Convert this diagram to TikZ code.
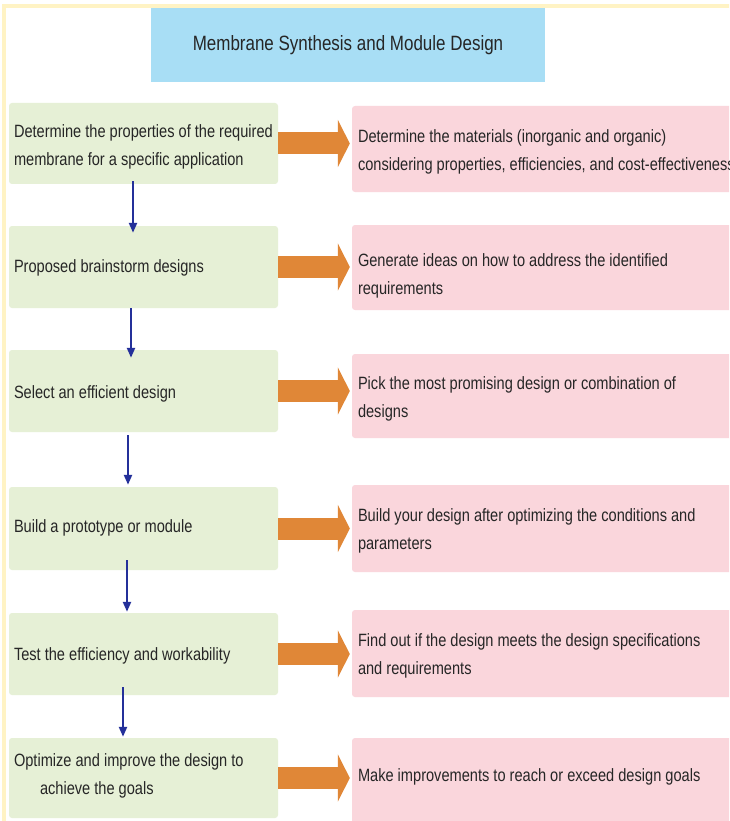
\documentclass[tikz,border=0pt]{standalone}
\usepackage{fontspec}
\setmainfont{Liberation Sans}[FakeStretch=0.82]
\usetikzlibrary{arrows.meta,calc}

\definecolor{titleblue}{HTML}{A8DEF5}
\definecolor{stepgreen}{HTML}{E6F0D6}
\definecolor{actpink}{HTML}{FAD6DC}
\definecolor{linkorange}{HTML}{E08737}
\definecolor{flowblue}{HTML}{24309A}
\definecolor{framegold}{HTML}{FFF3C4}
\definecolor{ink}{HTML}{262626}

\tikzset{
  stepbox/.style={fill=stepgreen, rounded corners=3pt, minimum width=269pt, inner sep=0pt},
  actbox/.style={fill=actpink, rounded corners=3pt, minimum width=408pt, inner sep=0pt},
  boxtext/.style={anchor=west, align=left, inner sep=0pt, text=ink},
  link/.style={linkorange, line width=22pt, -{Triangle[length=12pt,width=47pt]}},
  flow/.style={flowblue, line width=2.2pt, -{Triangle[length=10pt,width=8pt]}}
}

\begin{document}
\begin{tikzpicture}[x=1pt, y=-1pt, font=\fontsize{17.8}{28}\selectfont]
  \useasboundingbox (0,0) rectangle (729,821);
  \clip (0,0) rectangle (729,821);
  \fill[white] (0,0) rectangle (729,821);

  % pale outer frame
  \draw[framegold, line width=4pt] (3.5,6) rectangle (780,880);

  % heading
  \node[fill=titleblue, minimum width=394pt, minimum height=74pt, inner sep=0pt,
        font=\fontsize{20.7}{24}\selectfont, text=ink] (title) at (348,45)
        {Membrane Synthesis and Module Design};

  % process steps (left column)
  \node[stepbox, minimum height=81pt] (g1) at (143.5,143.5) {};
  \node[stepbox, minimum height=82pt] (g2) at (143.5,267) {};
  \node[stepbox, minimum height=82pt] (g3) at (143.5,391) {};
  \node[stepbox, minimum height=83pt] (g4) at (143.5,528.5) {};
  \node[stepbox, minimum height=82pt] (g5) at (143.5,654) {};
  \node[stepbox, minimum height=80pt] (g6) at (143.5,778) {};

  % actions (right column)
  \node[actbox, minimum height=86pt] (p1) at (556,149) {};
  \node[actbox, minimum height=85pt] (p2) at (556,267.5) {};
  \node[actbox, minimum height=84pt] (p3) at (556,396) {};
  \node[actbox, minimum height=87pt] (p4) at (556,528.5) {};
  \node[actbox, minimum height=87pt] (p5) at (556,653.5) {};
  \node[actbox, minimum height=102pt] (p6) at (556,789) {};

  % step labels
  \node[boxtext] (g1t) at ($(g1.west)+(5,3)$) {Determine the properties of the required\\membrane for a specific application};
  \node[boxtext] (g2t) at ($(g2.west)+(5,1)$) {Proposed brainstorm designs};
  \node[boxtext] (g3t) at ($(g3.west)+(5,3)$) {Select an efficient design};
  \node[boxtext] (g4t) at ($(g4.west)+(5,-1)$) {Build a prototype or module};
  \node[boxtext] (g5t) at ($(g5.west)+(5,2)$) {Test the efficiency and workability};
  \node[boxtext] (g6t) at ($(g6.west)+(5,-2)$) {Optimize and improve the design to\\\hspace*{26pt}achieve the goals};

  % action labels
  \node[boxtext] (p1t) at ($(p1.west)+(6,3)$) {Determine the materials (inorganic and organic)\\considering properties, efficiencies, and cost-effectiveness};
  \node[boxtext] (p2t) at ($(p2.west)+(6,8)$) {Generate ideas on how to address the identified\\requirements};
  \node[boxtext] (p3t) at ($(p3.west)+(6,3)$) {Pick the most promising design or combination of\\designs};
  \node[boxtext] (p4t) at ($(p4.west)+(6,2)$) {Build your design after optimizing the conditions and\\parameters};
  \node[boxtext] (p5t) at ($(p5.west)+(6,2)$) {Find out if the design meets the design specifications\\and requirements};
  \node[boxtext] (p6t) at ($(p6.west)+(6,-12)$) {Make improvements to reach or exceed design goals};

  % step -> action links
  \foreach \i in {1,...,6} {
    \draw[link] (g\i.east) -- ($(g\i.east -| p\i.west)+(-2,0)$);
  }

  % step -> step flow
  \draw[flow] ($(g1.south)+(-10.5,-3)$) -- ($(g2.north)+(-10.5,7)$);
  \draw[flow] ($(g2.south)+(-12.5,0)$) -- ($(g3.north)+(-12.5,8)$);
  \draw[flow] ($(g3.south)+(-15.5,3)$) -- ($(g4.north)+(-15.5,-2)$);
  \draw[flow] ($(g4.south)+(-16.5,-10)$) -- ($(g5.north)+(-16.5,-1)$);
  \draw[flow] ($(g5.south)+(-20.5,-8)$) -- ($(g6.north)+(-20.5,-1)$);
\end{tikzpicture}
\end{document}
